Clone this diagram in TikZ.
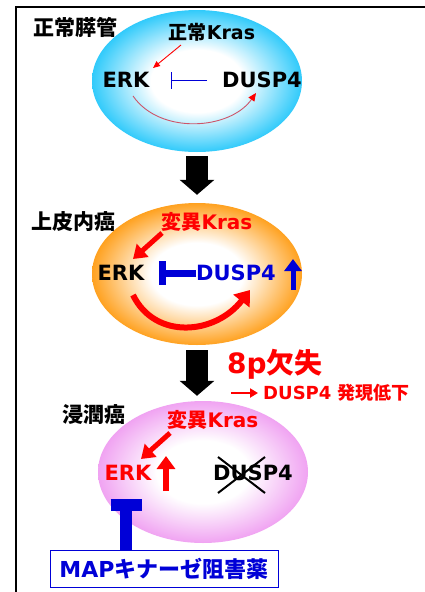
\documentclass[tikz,border=0pt]{standalone}
\usepackage{fontspec}
\setmainfont{DejaVu Sans}
\newfontfamily\jp{Noto Sans CJK JP}
\usetikzlibrary{arrows.meta,shapes.geometric}
\definecolor{cyanE}{RGB}{20,195,250}
\definecolor{orangeE}{RGB}{255,148,0}
\definecolor{pinkE}{RGB}{238,150,240}
\definecolor{myred}{RGB}{255,0,0}
\definecolor{myblue}{RGB}{0,0,215}
\definecolor{thinred}{RGB}{205,85,105}
\pgfdeclareradialshading{shcyan}{\pgfpoint{0bp}{0bp}}{color(0bp)=(white); color(11bp)=(white); color(27bp)=(cyanE); color(50bp)=(cyanE)}
\pgfdeclareradialshading{shorange}{\pgfpoint{0bp}{0bp}}{color(0bp)=(white); color(11bp)=(white); color(27bp)=(orangeE); color(50bp)=(orangeE)}
\pgfdeclareradialshading{shpink}{\pgfpoint{0bp}{0bp}}{color(0bp)=(white); color(11bp)=(white); color(27bp)=(pinkE); color(50bp)=(pinkE)}
\newcommand{\fs}[1]{\fontsize{#1}{#1}\selectfont}
\tikzset{
  ell/.style={ellipse, minimum width=210pt, minimum height=142pt, inner sep=0pt, draw=none},
  lab/.style={font=\fs{21}\bfseries, inner sep=0pt, anchor=west},
  mol/.style={font=\fs{21}\bfseries, inner sep=0pt},
  bigarrow/.style={line width=22pt, -{Triangle[width=34pt,length=15pt]}},
  thickred/.style={myred, line width=5pt, -{Triangle[width=17pt,length=13pt]}},
  uparrow/.style={line width=5pt, -{Triangle[width=17pt,length=12pt]}},
}
\begin{document}
\begin{tikzpicture}[x=1pt,y=-1pt]
\useasboundingbox (0,0) rectangle (425,592);
\fill[white] (0,0) rectangle (425,592);
% frame
\draw[line width=2pt] (16,600) -- (16,6.5) -- (430,6.5);

% ellipse 1
\node[ell, shading=shcyan] (e1) at (197,81) {};
\node[lab] (t1) at (33,27) {\jp 正常膵管};
\node[mol, font=\fs{19}\bfseries] (k1) at (212,32) {{\jp 正常}Kras};
\node[mol] (erk1) at (126,80) {ERK};
\node[mol] (dusp1) at (262,80) {DUSP4};
\coordinate (a1s) at (181,45);
\coordinate (a1e) at (153,68);
\draw[myred, line width=0.9pt, -{Triangle[width=6pt,length=7pt]}] (a1s) -- (a1e);
\coordinate (i1s) at (207,80);
\coordinate (i1e) at (171,80);
\draw[myblue, line width=1pt, -{Bar[width=17pt]}] (i1s) -- (i1e);
\coordinate (c1s) at (133,96);
\coordinate (c1e) at (256,93);
\draw[thinred, line width=0.9pt, -{Triangle[width=7pt,length=8pt,color=myred,fill=myred]}] (c1s) .. controls (160,135) and (230,130) .. (c1e);

% ellipse 2
\node[ell, shading=shorange] (e2) at (197,274) {};
\node[lab] (t2) at (31,222) {\jp 上皮内癌};
\node[mol, myred, font=\fs{20}\bfseries] (k2) at (207,222) {{\jp 変異}Kras};
\node[mol] (erk2) at (121,273) {ERK};
\node[mol, myblue] (dusp2) at (236,273) {DUSP4};
\coordinate (a2s) at (162,233);
\coordinate (a2e) at (133,259);
\draw[thickred] (a2s) -- (a2e);
\coordinate (i2s) at (196,273);
\coordinate (i2e) at (159,273);
\draw[myblue, line width=7pt, -{Bar[width=24pt]}] (i2s) -- (i2e);
\coordinate (u2s) at (293,290);
\coordinate (u2e) at (293,259);
\draw[myblue, uparrow] (u2s) -- (u2e);
\coordinate (c2s) at (133,295);
\coordinate (c2e) at (250,290);
\draw[myred, line width=6pt, -{Triangle[width=20pt,length=14pt]}] (c2s) .. controls (155,340) and (215,335) .. (c2e);

% big arrows
\draw[bigarrow] ([yshift=-4pt]e1.south) -- ([yshift=8pt]e2.north);

% ellipse 3
\node[ell, shading=shpink] (e3) at (203,472) {};
\draw[bigarrow] ([yshift=-5pt]e2.south) -- ([yshift=5pt]e2.south |- e3.north);
\node[mol, myred, anchor=west, font=\fs{28}\bfseries] (del) at (227,364) {8p{\jp 欠失}};
\coordinate (r3s) at (231,393);
\coordinate (r3e) at (258,393);
\draw[myred, line width=2.5pt, -{Triangle[width=9pt,length=8pt]}] (r3s) -- (r3e);
\node[mol, myred, anchor=west, font=\fs{18}\bfseries] (low) at (263,393) {DUSP4 {\jp 発現低下}};
\node[lab] (t3) at (62,415) {\jp 浸潤癌};
\node[mol, myred, font=\fs{20}\bfseries] (k3) at (213,420) {{\jp 変異}Kras};
\node[mol, myred] (erk3) at (128,473) {ERK};
\node[mol] (dusp3) at (253,473) {DUSP4};
\coordinate (a3s) at (170,433);
\coordinate (a3e) at (141,459);
\draw[thickred] (a3s) -- (a3e);
\coordinate (u3s) at (166,491);
\coordinate (u3e) at (166,456);
\draw[myred, line width=6pt, -{Triangle[width=18pt,length=13pt]}] (u3s) -- (u3e);
\coordinate (x1) at (218,457);
\coordinate (x2) at (265,493);
\coordinate (x3) at (218,493);
\coordinate (x4) at (265,457);
\draw[line width=2pt] (x1) -- (x2) (x3) -- (x4);

% drug box
\node[draw=myblue, line width=1pt, minimum width=228pt, minimum height=37pt, inner sep=0pt, text=myblue, font=\fs{22}\bfseries] (drug) at (164,568.5) {MAP{\jp キナーゼ阻害薬}};
\coordinate (tb) at (126,499);
\draw[myblue, line width=12pt, -{Bar[width=31pt]}] (drug.north -| tb) -- (tb);
\end{tikzpicture}
\end{document}
